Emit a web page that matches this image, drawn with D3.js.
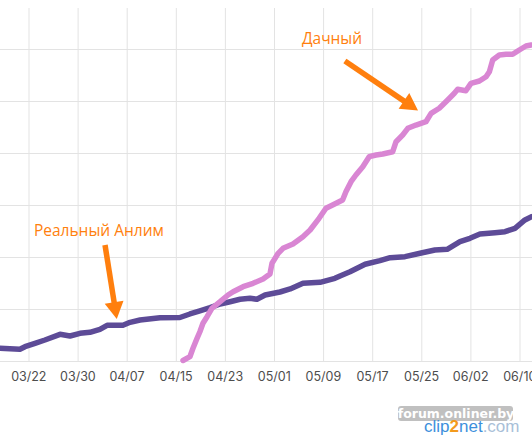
<!DOCTYPE html>
<html>
<head>
<meta charset="utf-8">
<script src="https://cdn.jsdelivr.net/npm/d3@7"></script>
<style>
  html, body { margin: 0; padding: 0; background: #ffffff; }
  svg { display: block; }
</style>
</head>
<body>
<svg id="chart" width="532" height="436"></svg>
<script>
// ---- data ----
const tickDates = ["2020-03-22","2020-03-30","2020-04-07","2020-04-15","2020-04-23","2020-05-01",
                   "2020-05-09","2020-05-17","2020-05-25","2020-06-02","2020-06-10"];
const yTicks = [0, 10, 20, 30, 40, 50, 60];

const anlimDates = ["2020-03-17 09","2020-03-20 15","2020-03-21 11","2020-03-23 02","2020-03-24 17",
  "2020-03-27 04","2020-03-28 19","2020-03-30 10","2020-04-01 01","2020-04-02 16","2020-04-03 20",
  "2020-04-06 10","2020-04-07 14","2020-04-09 05","2020-04-12 11","2020-04-15 17","2020-04-17 08",
  "2020-04-18 23","2020-04-20 15","2020-04-22 06","2020-04-23 21","2020-04-25 12","2020-04-27 03",
  "2020-04-28 06","2020-04-29 14","2020-05-02 00","2020-05-03 16","2020-05-05 18","2020-05-08 13",
  "2020-05-10 23","2020-05-11 19","2020-05-13 10","2020-05-15 21","2020-05-18 07","2020-05-19 23",
  "2020-05-22 09","2020-05-24 20","2020-05-27 06","2020-05-29 06","2020-05-31 08","2020-06-01 23",
  "2020-06-03 14","2020-06-06 01","2020-06-07 16","2020-06-09 07","2020-06-10 22","2020-06-12 02"];
const anlimValues = [2.44,2.25,2.75,3.40,4.04,5.13,4.81,5.33,5.52,6.10,6.87,6.87,7.44,7.88,8.33,8.37,
  9.04,9.62,10.25,10.96,11.40,11.87,12.06,11.87,12.69,13.27,13.85,14.94,15.13,15.90,16.35,17.17,18.60,
  19.29,19.87,20.06,20.71,21.35,21.48,22.94,23.60,24.42,24.67,24.87,25.52,27.12,27.79];

const dachDates = ["2020-04-16 05","2020-04-17 08","2020-04-17 20","2020-04-18 12","2020-04-18 23",
  "2020-04-19 11","2020-04-20 03","2020-04-20 22","2020-04-22 06","2020-04-23 13","2020-04-24 09",
  "2020-04-26 00","2020-04-27 15","2020-04-29 06","2020-04-30 09","2020-04-30 17","2020-05-01 17",
  "2020-05-02 12","2020-05-04 03","2020-05-05 18","2020-05-06 22","2020-05-08 09","2020-05-09 12",
  "2020-05-10 14","2020-05-12 05","2020-05-12 18","2020-05-13 14","2020-05-14 09","2020-05-15 12",
  "2020-05-16 13","2020-05-17 16","2020-05-18 18","2020-05-20 09","2020-05-20 22","2020-05-22 00",
  "2020-05-22 20","2020-05-24 04","2020-05-25 19","2020-05-26 15","2020-05-27 23","2020-05-29 08",
  "2020-05-30 10","2020-05-30 23","2020-06-01 07","2020-06-02 03","2020-06-03 12","2020-06-04 14",
  "2020-06-05 03","2020-06-05 16","2020-06-06 18","2020-06-07 20","2020-06-08 22","2020-06-10 00",
  "2020-06-11 02","2020-06-11 22"];
const dachValues = [0.10,0.83,2.44,4.37,5.63,7.25,8.52,10.13,11.40,12.69,13.33,14.29,14.94,15.77,16.73,
  18.79,20.71,21.67,22.50,23.90,25.19,27.44,29.37,30.00,30.96,32.56,34.48,35.77,37.37,39.29,39.62,39.81,
  40.25,42.17,43.46,44.75,45.38,46.02,47.63,48.60,50.19,51.48,52.25,51.98,53.40,53.85,54.67,55.63,57.88,
  58.85,58.98,58.98,59.81,60.58,60.77];

// annotations: label anchor, arrow tail, arrow tip (date, value)
const annLabels = ["Реальный Анлим", "Дачный"];
const annTextAt = [["2020-03-22 22", 24.04], ["2020-05-05 14", 60.96]];
const annTail   = [["2020-04-03 12", 22.31], ["2020-05-12 14", 57.69]];
const annTip    = [["2020-04-05 10", 8.08],  ["2020-05-24 12", 48.17]];

// ---- setup ----
const W = 532, H = 436;
const parseDay = d3.timeParse("%Y-%m-%d");
const parseHr = d3.timeParse("%Y-%m-%d %H");
const fmt = d3.timeFormat("%m/%d");

const x = d3.scaleTime()
  .domain([parseDay("2020-03-22"), parseDay("2020-06-10")])
  .range([28.3, 519.3]);
const y = d3.scaleLinear().domain([0, 60]).range([361, 49]);

const svg = d3.select("#chart");

// horizontal grid
svg.append("g").selectAll("line").data(yTicks).join("line")
  .attr("x1", 0).attr("x2", W)
  .attr("y1", d => Math.round(y(d)) + 0.5).attr("y2", d => Math.round(y(d)) + 0.5)
  .attr("stroke", "#e3e3e3").attr("stroke-width", 1);

// vertical grid + tick labels via axis
const xAxis = d3.axisBottom(x)
  .tickValues(tickDates.map(parseDay))
  .tickFormat(fmt)
  .tickSize(-(y(0) - 8) - 1)
  .tickPadding(10);
const gx = svg.append("g").attr("transform", `translate(0,${y(0) + 1})`).call(xAxis);
gx.select(".domain").remove();
gx.selectAll(".tick line").attr("stroke", "#e3e3e3").attr("transform", "translate(0.2,0)");
gx.selectAll(".tick text")
  .attr("fill", "#4d4d4d")
  .style("font-family", "Inter, 'Open Sans', sans-serif")
  .style("font-size", "12.5px");

// lines
const line = d3.line().x(d => x(d[0])).y(d => y(d[1])).curve(d3.curveLinear);
const anlim = anlimDates.map((d, i) => [parseHr(d), anlimValues[i]]);
const dach = dachDates.map((d, i) => [parseHr(d), dachValues[i]]);

svg.append("path").datum(anlim).attr("d", line)
  .attr("fill", "none").attr("stroke", "#5d4b97").attr("stroke-width", 5.5)
  .attr("stroke-linejoin", "round").attr("stroke-linecap", "round");
svg.append("path").datum(dach).attr("d", line)
  .attr("fill", "none").attr("stroke", "#d986d3").attr("stroke-width", 5.5)
  .attr("stroke-linejoin", "round").attr("stroke-linecap", "round");

// annotations
const orange = "#ff7f0e";
annLabels.forEach((lab, i) => {
  svg.append("text")
    .attr("x", x(parseHr(annTextAt[i][0])))
    .attr("y", y(annTextAt[i][1]))
    .attr("fill", orange)
    .style("font-family", "'Open Sans', sans-serif")
    .style("font-size", "15.5px")
    .text(lab);
  const x0 = x(parseHr(annTail[i][0])), y0 = y(annTail[i][1]);
  const x1 = x(parseHr(annTip[i][0])), y1 = y(annTip[i][1]);
  const dx = x1 - x0, dy = y1 - y0, len = Math.hypot(dx, dy);
  const ux = dx / len, uy = dy / len;
  const headL = 17, headW = 9.5;
  const bx = x1 - ux * headL, by = y1 - uy * headL;
  svg.append("line")
    .attr("x1", x0).attr("y1", y0).attr("x2", bx + ux * 2).attr("y2", by + uy * 2)
    .attr("stroke", orange).attr("stroke-width", 5.5);
  svg.append("polygon")
    .attr("points", [[x1, y1], [bx - uy * headW, by + ux * headW], [bx + uy * headW, by - ux * headW]]
      .map(p => p.join(",")).join(" "))
    .attr("fill", orange);
});

// watermark
const wm = svg.append("g");
wm.append("rect").attr("x", 398).attr("y", 406).attr("width", 115).attr("height", 15).attr("rx", 3)
  .attr("fill", "#b5b5b5").attr("opacity", 0.85);
wm.append("text").attr("x", 456).attr("y", 418).attr("text-anchor", "middle")
  .attr("fill", "#ffffff").style("font-family", "'DejaVu Sans', sans-serif")
  .style("font-weight", "bold").style("font-size", "12.5px").text("forum.onliner.by");
const t2 = wm.append("text").attr("x", 424).attr("y", 432)
  .style("font-family", "'Liberation Sans', Arial, sans-serif").style("font-size", "17px");
t2.append("tspan").attr("fill", "#3d8fdc").text("clip");
t2.append("tspan").attr("fill", "#f39a1d").style("font-weight", "bold").text("2");
t2.append("tspan").attr("fill", "#3d8fdc").text("net");
t2.append("tspan").attr("fill", "#a9bfd8").text(".com");
</script>
</body>
</html>
